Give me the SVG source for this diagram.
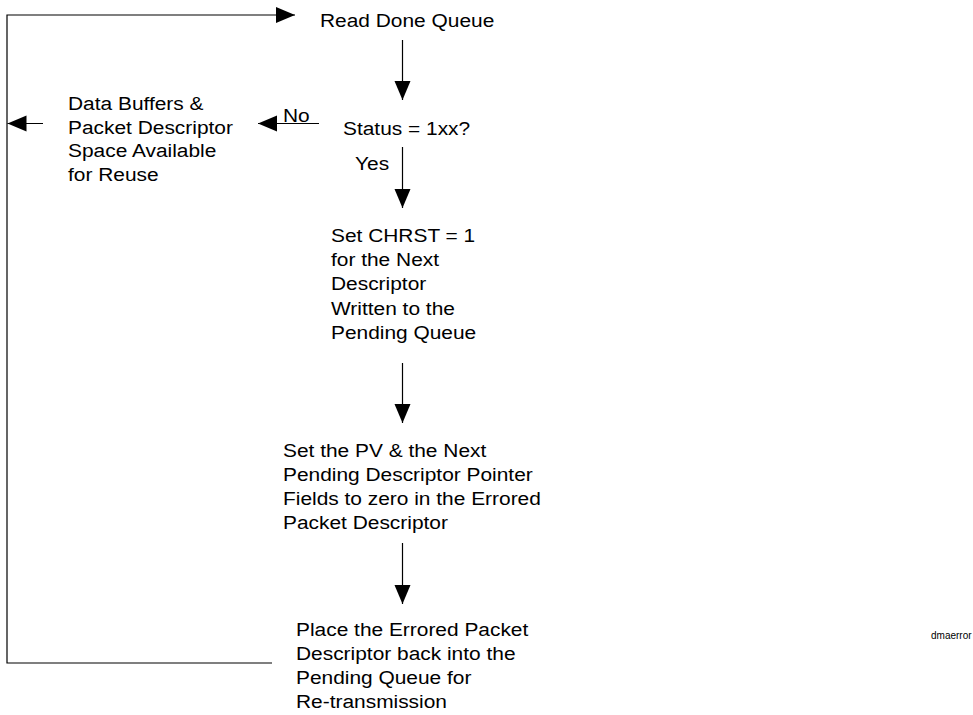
<svg xmlns="http://www.w3.org/2000/svg" width="973" height="715" viewBox="0 0 973 715">
<style>
  .t { font-family: "Liberation Sans", Arial, sans-serif; font-size: 19px; fill: #000; }
  .s { font-family: "Liberation Sans", Arial, sans-serif; font-size: 10px; fill: #000; }
  .c { fill: none; stroke: #000; stroke-width: 1.2; }
</style>
<defs>
  <marker id="ah" markerUnits="userSpaceOnUse" markerWidth="19" markerHeight="16" refX="19" refY="8" orient="auto" overflow="visible">
    <path d="M0,0 L19,8 L0,16 Z" fill="#000"/>
  </marker>
</defs>
<rect width="973" height="715" fill="#fff"/>
<g id="connectors">
  <path class="c" d="M272,663 L7,663 L7,15 L295,15" marker-end="url(#ah)"/>
  <line class="c" x1="402.5" y1="40" x2="402.5" y2="100" marker-end="url(#ah)"/>
  <line class="c" x1="319" y1="123.5" x2="258" y2="123.5" marker-end="url(#ah)"/>
  <line class="c" x1="43" y1="123.5" x2="7.5" y2="123.5" marker-end="url(#ah)"/>
  <line class="c" x1="402.5" y1="147" x2="402.5" y2="208" marker-end="url(#ah)"/>
  <line class="c" x1="402.5" y1="363" x2="402.5" y2="423" marker-end="url(#ah)"/>
  <line class="c" x1="402.5" y1="543" x2="402.5" y2="604" marker-end="url(#ah)"/>
</g>
<g id="read-done-queue">
  <text class="t" transform="translate(320,27) scale(1.1,1)">Read Done Queue</text>
</g>
<g id="status">
  <text class="t" transform="translate(343,135) scale(1.1,1)">Status = 1xx?</text>
</g>
<g id="label-no">
  <text class="t" transform="translate(283,122) scale(1.1,1)">No</text>
</g>
<g id="label-yes">
  <text class="t" transform="translate(355,170) scale(1.1,1)">Yes</text>
</g>
<g id="data-buffers">
  <text class="t" transform="translate(68,110) scale(1.1,1)">
    <tspan x="0" y="0">Data Buffers &amp;</tspan>
    <tspan x="0" y="23.7">Packet Descriptor</tspan>
    <tspan x="0" y="47.4">Space Available</tspan>
    <tspan x="0" y="71.1">for Reuse</tspan>
  </text>
</g>
<g id="set-chrst">
  <text class="t" transform="translate(331,242) scale(1.1,1)">
    <tspan x="0" y="0">Set CHRST = 1</tspan>
    <tspan x="0" y="24.2">for the Next</tspan>
    <tspan x="0" y="48.4">Descriptor</tspan>
    <tspan x="0" y="72.6">Written to the</tspan>
    <tspan x="0" y="96.8">Pending Queue</tspan>
  </text>
</g>
<g id="set-pv">
  <text class="t" transform="translate(283,457) scale(1.1,1)">
    <tspan x="0" y="0">Set the PV &amp; the Next</tspan>
    <tspan x="0" y="24">Pending Descriptor Pointer</tspan>
    <tspan x="0" y="48">Fields to zero in the Errored</tspan>
    <tspan x="0" y="72">Packet Descriptor</tspan>
  </text>
</g>
<g id="place-errored">
  <text class="t" transform="translate(296,636) scale(1.1,1)">
    <tspan x="0" y="0">Place the Errored Packet</tspan>
    <tspan x="0" y="24">Descriptor back into the</tspan>
    <tspan x="0" y="48">Pending Queue for</tspan>
    <tspan x="0" y="72">Re-transmission</tspan>
  </text>
</g>
<g id="file-label">
  <text class="s" x="931" y="639">dmaerror</text>
</g>
</svg>
